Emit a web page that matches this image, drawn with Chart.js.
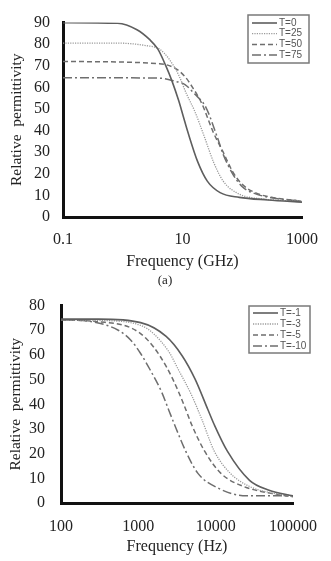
<!DOCTYPE html>
<html>
<head>
<meta charset="utf-8">
<script src="https://cdn.jsdelivr.net/npm/chart.js@4"></script>
<style>
  html, body { margin: 0; padding: 0; background: #fff; }
  #wrap { position: relative; width: 331px; height: 561px; overflow: hidden; }
  .box { position: absolute; left: 0; width: 331px; }
  #top-box { top: 0; height: 280px; }
  #bottom-box { top: 280px; height: 281px; }
  #caption-a { position: absolute; top: 272px; left: 150px; width: 30px; text-align: center;
    font: 13px/16px "Liberation Serif", serif; color: #222; }
</style>
</head>
<body>
<div id="wrap">
  <div class="box" id="top-box"><canvas id="chart-top"></canvas></div>
  <div class="box" id="bottom-box"><canvas id="chart-bottom"></canvas></div>
  <div id="caption-a">(a)</div>
</div>
<script>
// (a) permittivity vs frequency, GHz
const topLabels = ["T=0", "T=25", "T=50", "T=75"];
const topT0Freq = [0.1, 0.82, 1.73, 2.8, 3.85, 5.2, 6.7, 8.6, 10.2, 12.4, 18, 26, 42.6, 89, 269, 1000];
const topT0Vals = [90, 89.7, 86.7, 82.2, 77.8, 70.3, 62.8, 54, 47, 39, 25.5, 16.6, 11.3, 9.1, 7.9, 6.9];
const topT25Freq = [0.1, 0.82, 2.5, 4.1, 5.9, 8.6, 11.7, 16, 23, 33, 48, 89, 213, 1000];
const topT25Vals = [80.5, 80.5, 79.3, 77.8, 73.3, 65.8, 56.9, 49, 37.5, 25.5, 16.6, 10.6, 8.4, 7.3];
const topT50Freq = [0.1, 4.1, 7.6, 11, 14.8, 21, 33, 48, 69, 100, 164, 310, 1000];
const topT50Vals = [72, 71, 68.8, 65, 59.9, 52.6, 39, 30, 21, 15.1, 11.3, 9.1, 7.3];
const topT75Freq = [0.1, 4.1, 7.6, 11, 16, 24.5, 37.6, 48, 69, 100, 164, 310, 1000];
const topT75Vals = [64.5, 64.3, 62.8, 61.3, 56.9, 50.9, 37.5, 29, 20, 14, 10.8, 8.9, 7.3];
const topXTicks = [0.1, 10, 1000];

// (b) permittivity vs frequency, Hz
const bottomLabels = ["T=-1", "T=-3", "T=-5", "T=-10"];
const botT1Freq = [100, 306, 1070, 2290, 3700, 5400, 7900, 9600, 14100, 27400, 49000, 100000];
const botT1Vals = [74.5, 74.5, 73.1, 67.5, 59.6, 50.3, 38, 31.7, 21.1, 9.2, 5.2, 2.9];
const botT3Freq = [100, 306, 1070, 2400, 3300, 4900, 6600, 9600, 15500, 27400, 54000, 100000];
const botT3Vals = [74.3, 74, 72, 62, 54, 43.6, 34, 21, 12, 6.7, 4, 2.9];
const botT5Freq = [100, 300, 800, 1290, 1900, 2780, 3900, 4900, 7200, 11700, 23000, 50000, 100000];
const botT5Vals = [74.3, 73.5, 71, 66.4, 59.6, 50.3, 39.7, 31.7, 21, 12, 6.7, 4, 2.5];
const botT10Freq = [100, 250, 550, 800, 1070, 1420, 2000, 2520, 3050, 4100, 5900, 10500, 25000, 100000];
const botT10Vals = [74.3, 73.5, 70, 66, 60.6, 54, 45, 37, 30.5, 21, 12, 6.2, 2.9, 2.9];
const bottomXTicks = [100, 1000, 10000, 100000];

const lineStyles = [
  { color: "#5e5e5e", width: 1.6, dash: [] },
  { color: "#9a9a9a", width: 1.3, dash: [1.2, 1.2] },
  { color: "#6e6e6e", width: 1.5, dash: [5, 3] },
  { color: "#6e6e6e", width: 1.5, dash: [9, 3, 2, 3] }
];

function zip(xs, ys) {
  return xs.map((x, i) => ({ x: x, y: ys[i] }));
}

function makeDatasets(labels, series) {
  return series.map((s, i) => ({
    label: labels[i],
    data: zip(s[0], s[1]),
    borderColor: lineStyles[i].color,
    borderWidth: lineStyles[i].width,
    borderDash: lineStyles[i].dash,
    pointRadius: 0,
    fill: false,
    cubicInterpolationMode: "monotone",
    tension: 0.4
  }));
}

// boxed legend inside the plot, top right
const boxLegend = {
  id: "boxLegend",
  afterDraw(chart, args, opts) {
    const ctx = chart.ctx;
    ctx.save();
    ctx.lineWidth = 1.5;
    ctx.strokeStyle = "#7a7a7a";
    ctx.setLineDash([]);
    ctx.strokeRect(opts.x, opts.y, opts.w, opts.h);
    ctx.font = "10px 'Liberation Sans', Arial, sans-serif";
    ctx.textBaseline = "middle";
    ctx.fillStyle = "#555";
    chart.data.datasets.forEach((ds, i) => {
      const cy = opts.y + opts.rowTop + i * opts.rowStep;
      ctx.beginPath();
      ctx.strokeStyle = ds.borderColor;
      ctx.lineWidth = ds.borderWidth;
      ctx.setLineDash(ds.borderDash);
      ctx.moveTo(opts.x + 4, cy);
      ctx.lineTo(opts.x + 29, cy);
      ctx.stroke();
      ctx.setLineDash([]);
      ctx.fillText(ds.label, opts.x + 31, cy);
    });
    ctx.restore();
  }
};

function makeChart(canvasId, labels, series, xTicks, xMin, xMax, yMax, xTitle, cfg) {
  return new Chart(document.getElementById(canvasId), {
    type: "line",
    data: { datasets: makeDatasets(labels, series) },
    plugins: [boxLegend],
    options: {
      responsive: true,
      maintainAspectRatio: false,
      animation: false,
      layout: { padding: cfg.padding },
      plugins: {
        legend: { display: false },
        tooltip: { enabled: false },
        boxLegend: cfg.legend
      },
      scales: {
        x: {
          type: "logarithmic",
          min: xMin,
          max: xMax,
          afterBuildTicks: (scale) => {
            scale.ticks = xTicks.map(v => ({ value: v }));
          },
          afterFit: (scale) => { scale.height = cfg.xHeight; },
          grid: { display: false, drawTicks: false },
          border: { display: true, color: "#111", width: 3 },
          ticks: {
            padding: cfg.xTickPad,
            autoSkip: false,
            maxRotation: 0,
            color: "#222",
            font: { family: "'Liberation Serif', serif", size: 16 },
            callback: (v) => String(v)
          },
          title: {
            display: true,
            text: xTitle,
            color: "#222",
            padding: { top: 2, bottom: 2 },
            font: { family: "'Liberation Serif', serif", size: 16 }
          }
        },
        y: {
          min: 0,
          max: yMax,
          grid: { display: false, drawTicks: false },
          border: { display: true, color: "#111", width: 3 },
          ticks: {
            stepSize: 10,
            autoSkip: false,
            padding: cfg.yTickPad,
            color: "#222",
            font: { family: "'Liberation Serif', serif", size: 16 }
          },
          afterFit: (scale) => { scale.width = cfg.yWidth; },
          title: {
            display: true,
            text: "Relative  permittivity",
            color: "#222",
            padding: { top: 0, bottom: 0 },
            font: { family: "'Liberation Serif', serif", size: 15.5 }
          }
        }
      }
    }
  });
}

makeChart("chart-top", topLabels,
  [[topT0Freq, topT0Vals], [topT25Freq, topT25Vals], [topT50Freq, topT50Vals], [topT75Freq, topT75Vals]],
  topXTicks, 0.1, 1000, 90, "Frequency (GHz)",
  {
    padding: { left: 8, right: 19, top: 16, bottom: 7 },
    xTickPad: 13, yTickPad: 13, yWidth: 55, xHeight: 56,
    legend: { x: 248, y: 15, w: 61, h: 48, rowTop: 8, rowStep: 10.7 }
  });

makeChart("chart-bottom", bottomLabels,
  [[botT1Freq, botT1Vals], [botT3Freq, botT3Vals], [botT5Freq, botT5Vals], [botT10Freq, botT10Vals]],
  bottomXTicks, 100, 100000, 80, "Frequency (Hz)",
  {
    padding: { left: 7, right: 29, top: 22, bottom: 3 },
    xTickPad: 14, yTickPad: 16, yWidth: 54, xHeight: 55,
    legend: { x: 249, y: 26, w: 61, h: 47, rowTop: 7, rowStep: 11 }
  });
</script>
</body>
</html>
